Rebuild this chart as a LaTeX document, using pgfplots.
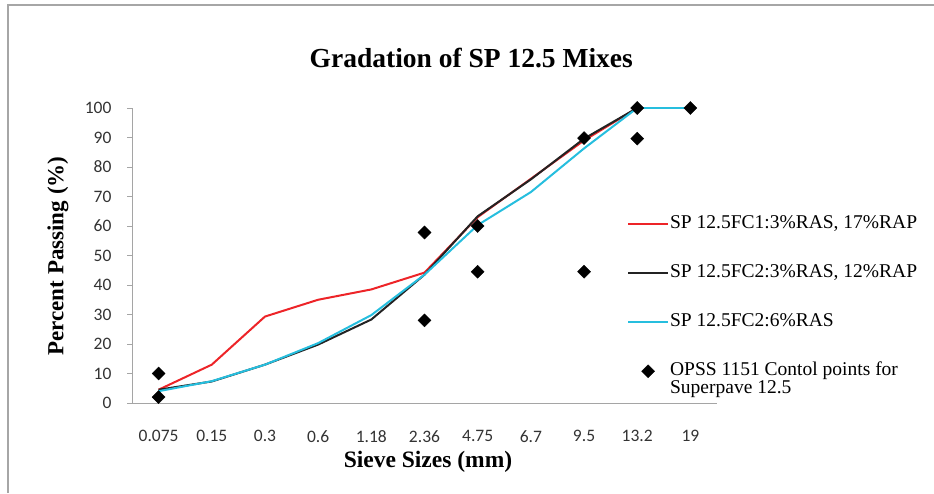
\documentclass[border=0pt]{standalone}
\usepackage{fontspec}
\setmainfont{Liberation Serif}
\newfontfamily\carlito{Carlito}
\usepackage{pgfplots}
\pgfplotsset{compat=1.18}
\definecolor{cred}{RGB}{237,36,40}
\definecolor{cblack}{RGB}{35,35,35}
\definecolor{ccyan}{RGB}{38,190,222}
\definecolor{axgray}{RGB}{165,165,165}
\begin{document}
\begin{tikzpicture}
\path[use as bounding box] (0,0) rectangle (934pt,493pt);
\draw[gray!70, line width=1.2pt] (8pt,0pt) -- (8pt,488pt) -- (934pt,488pt);
\begin{axis}[
  at={(132pt,90pt)}, anchor=south west,
  scale only axis, width=585pt, height=295pt,
  xmin=-0.5, xmax=10.5, ymin=0, ymax=100,
  axis x line*=bottom, axis y line*=left,
  axis line style={axgray, line width=0.8pt},
  xtick={0,...,10},
  xticklabels={0.075,0.15,0.3,0.6,1.18,2.36,4.75,6.7,9.5,13.2,19},
  minor xtick={-0.5,0.5,...,10.5},
  ytick={0,10,...,100},
  tick align=outside,
  major tick length=5pt, minor tick length=5pt,
  xtick style={draw=none},
  minor tick style={axgray, line width=0.8pt},
  ytick style={axgray, line width=0.8pt},
  /pgf/number format/assume math mode=true,
  ticklabel style={font=\carlito\fontsize{17.5}{20}\selectfont, text=black!80},
  xticklabel style={yshift=-19pt},
  yticklabel style={xshift=-12pt},
  title={Gradation of SP 12.5 Mixes},
  title style={font=\bfseries\fontsize{27.5}{30}\selectfont, at={(axis description cs:0.58,1.15)}, anchor=center},
  xlabel={Sieve Sizes (mm)},
  xlabel style={font=\bfseries\fontsize{23.5}{26}\selectfont, at={(axis description cs:0.506,-0.2)}, anchor=center},
  ylabel={Percent Passing (\%)},
  ylabel style={font=\bfseries\fontsize{23}{26}\selectfont, at={(axis description cs:-0.1265,0.498)}, anchor=center},
  legend image code/.code={\draw[mark repeat=2,mark phase=2] plot coordinates {(0pt,0pt) (20pt,0pt) (40pt,0pt)};},
  legend style={at={(axis description cs:0.846,0.637)}, anchor=north west, draw=none, fill=none,
    inner xsep=0pt, inner ysep=0pt, row sep=31pt, column sep=0pt,
    font=\fontsize{19.5}{15}\selectfont,
    nodes={inner sep=1pt, text height=12pt, text depth=4pt}},
  legend cell align=left,
]
\addplot[cred, line width=2pt] coordinates {(0,4.5) (1,13) (2,29.3) (3,35) (4,38.5) (5,44.2) (6,63) (7,76) (8,89) (9,100) (10,100)};
\addlegendentry{SP 12.5FC1:3\%RAS, 17\%RAP}
\addplot[cblack, line width=2pt] coordinates {(0,4.5) (1,7.3) (2,13) (3,19.8) (4,28.3) (5,43.5) (6,63.3) (7,75.8) (8,89.6) (9,100) (10,100)};
\addlegendentry{SP 12.5FC2:3\%RAS, 12\%RAP}
\addplot[ccyan, line width=2pt] coordinates {(0,4) (1,7.4) (2,13) (3,20.3) (4,29.8) (5,43.5) (6,60.3) (7,71.5) (8,86.3) (9,100) (10,100)};
\addlegendentry{SP 12.5FC2:6\%RAS}
\addplot[only marks, mark=square*, mark size=4.6pt, mark options={rotate=45, fill=black, draw=black}] coordinates {(0,10) (0,2) (5,57.8) (5,28) (6,60) (6,44.5) (8,89.8) (8,44.5) (9,100) (9,89.6) (10,100)};
\addlegendentry{\parbox[t]{260pt}{\fontsize{19.5}{15}\selectfont OPSS 1151 Contol points for\\Superpave 12.5}}
\end{axis}
\end{tikzpicture}
\end{document}
